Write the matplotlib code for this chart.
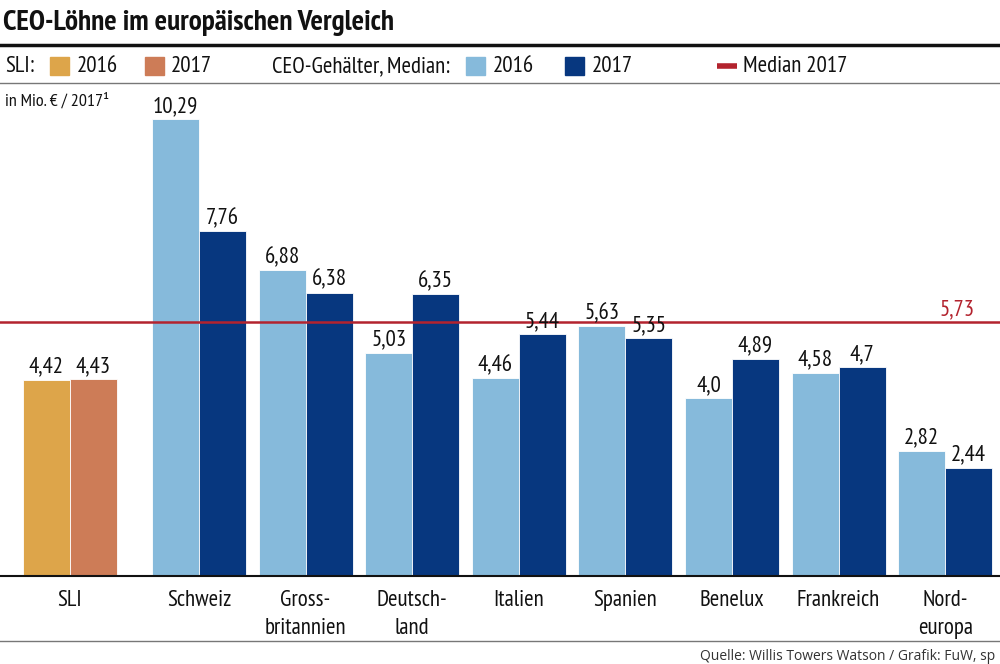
import matplotlib
matplotlib.use("Agg")
import matplotlib.pyplot as plt

W, H = 1000, 664
FONT = ['PT Sans Narrow', 'Fira Sans Condensed', 'DejaVu Sans']
plt.rcParams['font.family'] = FONT

categories = ["SLI", "Schweiz", "Gross-\nbritannien", "Deutsch-\nland", "Italien",
              "Spanien", "Benelux", "Frankreich", "Nord-\neuropa"]
values_2016 = [4.42, 10.29, 6.88, 5.03, 4.46, 5.63, 4.00, 4.58, 2.82]
values_2017 = [4.43, 7.76, 6.38, 6.35, 5.44, 5.35, 4.89, 4.70, 2.44]
labels_2016 = ["4,42", "10,29", "6,88", "5,03", "4,46", "5,63", "4,0", "4,58", "2,82"]
labels_2017 = ["4,43", "7,76", "6,38", "6,35", "5,44", "5,35", "4,89", "4,7", "2,44"]
median_2017 = 5.73
median_label = "5,73"

C_SLI16 = "#DDA54A"
C_SLI17 = "#CD7C57"
C_16 = "#86BADB"
C_17 = "#07377F"
C_RED = "#B3232E"
TXT = "#111111"
FS = 16.5

fig = plt.figure(figsize=(W / 100, H / 100), dpi=100)

def fx(px):
    return px / W

def fy(py):
    return 1 - py / H

unit = 106.6
x0_px = 199.0
xlim = (1 - x0_px / unit, 1 + (W - x0_px) / unit)
ppu = (576 - 119) / 10.29
ytop = (576 - 100) / ppu
ax = fig.add_axes([0, fy(576), 1, (576 - 100) / H])
ax.set_xlim(*xlim)
ax.set_ylim(0, ytop)
ax.axis('off')

positions = [1 - 129 / unit] + list(range(1, 9))
bw = 47 / unit
for i, (p, v16, v17) in enumerate(zip(positions, values_2016, values_2017)):
    c16 = C_SLI16 if i == 0 else C_16
    c17 = C_SLI17 if i == 0 else C_17
    ax.bar(p - bw / 2, v16, width=bw, color=c16, edgecolor='white', linewidth=0.6)
    ax.bar(p + bw / 2, v17, width=bw, color=c17, edgecolor='white', linewidth=0.6)
    ax.annotate(labels_2016[i], (p - bw / 2, v16), xytext=(0, 1.5), textcoords='offset points',
                ha='center', va='bottom', fontsize=FS, color=TXT)
    ax.annotate(labels_2017[i], (p + bw / 2, v17), xytext=(0, 1.5), textcoords='offset points',
                ha='center', va='bottom', fontsize=FS, color=TXT)

ax.axhline(median_2017, color=C_RED, lw=1.8)
ax.annotate(median_label, (xlim[1], median_2017), xytext=(-18, 0.8), textcoords='offset points',
            ha='right', va='bottom', fontsize=FS, color=C_RED)

for p, c in zip(positions, categories):
    ax.annotate(c, (p, 0), xytext=(0, -10), textcoords='offset points', ha='center', va='top',
                fontsize=FS, color=TXT, linespacing=1.45, annotation_clip=False)

fig.add_artist(plt.Line2D([0, 1], [fy(576), fy(576)], color=TXT, lw=1.5))
fig.add_artist(plt.Line2D([0, 1], [fy(45), fy(45)], color=TXT, lw=2.5))
fig.add_artist(plt.Line2D([0, 1], [fy(83), fy(83)], color='#777777', lw=1.0))
fig.add_artist(plt.Line2D([0, 1], [fy(641), fy(641)], color='#777777', lw=1.0))

fig.text(fx(3), fy(23), "CEO-Löhne im europäischen Vergleich", fontsize=21, fontweight='bold',
         ha='left', va='center', color=TXT)

ly = fy(67)
def sq(x, color):
    fig.add_artist(plt.Rectangle((fx(x), fy(75)), fx(19), 18 / H, color=color,
                                 transform=fig.transFigure))

fig.text(fx(5), ly, "SLI:", fontsize=FS, ha='left', va='center', color=TXT)
sq(50, C_SLI16)
fig.text(fx(77), ly, "2016", fontsize=FS, ha='left', va='center', color=TXT)
sq(145, C_SLI17)
fig.text(fx(171), ly, "2017", fontsize=FS, ha='left', va='center', color=TXT)
fig.text(fx(272), ly, "CEO-Gehälter, Median:", fontsize=FS, ha='left', va='center', color=TXT)
sq(466, C_16)
fig.text(fx(493), ly, "2016", fontsize=FS, ha='left', va='center', color=TXT)
sq(565, C_17)
fig.text(fx(592), ly, "2017", fontsize=FS, ha='left', va='center', color=TXT)
fig.add_artist(plt.Line2D([fx(717), fx(737)], [fy(66), fy(66)], color=C_RED, lw=4,
                          solid_capstyle='butt'))
fig.text(fx(743), ly, "Median 2017", fontsize=FS, ha='left', va='center', color=TXT)

fig.text(fx(5), fy(101), "in Mio. € / 2017¹", fontsize=13, ha='left', va='center', color=TXT)

fig.text(fx(995), fy(657), "Quelle: Willis Towers Watson / Grafik: FuW, sp", fontsize=10,
         ha='right', va='center', color='#333333', family=['Open Sans', 'DejaVu Sans'])

fig.savefig("out.png", dpi=100)
